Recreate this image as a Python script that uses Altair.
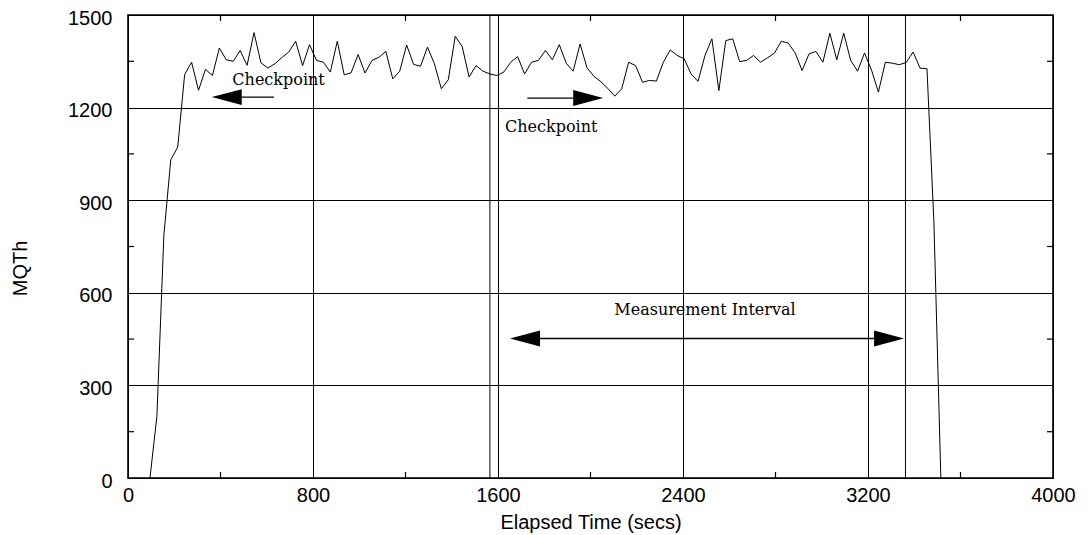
import altair as alt
import pandas as pd

# ---- data ----
times = [95, 125, 155, 185, 215, 245, 275, 305, 335, 365, 395, 425, 455, 485, 515, 545,
         575, 605, 635, 665, 695, 725, 755, 785, 815, 845, 875, 905, 935, 965, 995, 1025,
         1055, 1085, 1115, 1145, 1175, 1205, 1235, 1265, 1295, 1325, 1355, 1385, 1415, 1445,
         1475, 1505, 1535, 1565, 1595, 1625, 1655, 1685, 1715, 1745, 1775, 1805, 1835, 1865,
         1895, 1925, 1955, 1985, 2015, 2045, 2075, 2105, 2135, 2165, 2195, 2225, 2255, 2285,
         2315, 2345, 2375, 2405, 2435, 2465, 2495, 2525, 2555, 2585, 2615, 2645, 2675, 2705,
         2735, 2765, 2795, 2825, 2855, 2885, 2915, 2945, 2975, 3005, 3035, 3065, 3095, 3125,
         3155, 3185, 3215, 3245, 3275, 3305, 3335, 3365, 3395, 3425, 3455, 3485, 3515]
mqth = [0, 200, 785, 1031, 1072, 1307, 1347, 1256, 1324, 1304, 1393, 1355, 1350, 1385, 1337, 1443,
        1345, 1328, 1342, 1362, 1380, 1415, 1336, 1404, 1353, 1347, 1315, 1415, 1306, 1313, 1372, 1312,
        1353, 1363, 1382, 1293, 1318, 1403, 1340, 1334, 1396, 1342, 1261, 1290, 1431, 1398,
        1299, 1336, 1318, 1309, 1304, 1315, 1347, 1365, 1309, 1347, 1353, 1385, 1355, 1404,
        1344, 1318, 1406, 1329, 1301, 1284, 1262, 1237, 1261, 1347, 1336, 1282, 1288, 1286,
        1347, 1387, 1369, 1358, 1309, 1285, 1369, 1423, 1255, 1417, 1423, 1349, 1353, 1369,
        1347, 1361, 1376, 1415, 1409, 1377, 1320, 1374, 1382, 1347, 1441, 1355, 1441, 1353,
        1318, 1377, 1322, 1250, 1347, 1344, 1339, 1346, 1380, 1328, 1326, 830, 0]

x_ticks = [0, 800, 1600, 2400, 3200, 4000]
y_ticks = [0, 300, 600, 900, 1200, 1500]
x_minor = [400, 1200, 2000, 2800, 3600]
y_minor = [150, 450, 750, 1050, 1350]
marker_lines = [1565, 3362]

label_text = ["Checkpoint", "Checkpoint", "Measurement Interval"]
label_x = [651, 1830, 2495]
label_y = [1272, 1121, 527]

shaft_x1 = [492, 1727, 1717]
shaft_x2 = [631, 1925, 3291]
shaft_y = [1234, 1231, 452]

head_x = [427, 1990, 1717, 3291]
head_y = [1234, 1231, 452, 452]
head_dir = ["left", "right", "left", "right"]

W, H = 925, 463
XT, YT = "Elapsed Time (secs)", "MQTh"
xs = alt.Scale(domain=[0, 4000], nice=False, zero=False)
ys = alt.Scale(domain=[0, 1500], nice=False, zero=False)

df = pd.DataFrame({"t": times, "v": mqth})

line = alt.Chart(df).mark_line(color="black", strokeWidth=1).encode(
    x=alt.X("t:Q", scale=xs, title=XT, axis=alt.Axis(
        values=x_ticks, format="d", labelPadding=7, titleBaseline="middle", titleY=44)),
    y=alt.Y("v:Q", scale=ys, title=YT, axis=alt.Axis(
        values=y_ticks, format="d", labelPadding=16, labelOffset=3, titleAngle=270,
        titleAlign="center", titleBaseline="middle", titleX=-108, titleY=253)),
)

vlines = alt.Chart(pd.DataFrame({"m": marker_lines})).mark_rule(
    color="black", strokeWidth=1).encode(x=alt.X("m:Q", scale=xs, title=XT))

xm = pd.DataFrame({"m": x_minor})
ym = pd.DataFrame({"m": y_minor})
tick_bot = alt.Chart(xm).mark_rule(color="black", strokeWidth=1.2).encode(
    x=alt.X("m:Q", scale=xs, title=XT), y=alt.value(H), y2=alt.value(H - 6))
tick_top = alt.Chart(xm).mark_rule(color="black", strokeWidth=1.2).encode(
    x=alt.X("m:Q", scale=xs, title=XT), y=alt.value(0), y2=alt.value(6))
tick_left = alt.Chart(ym).mark_rule(color="black", strokeWidth=1.2).encode(
    y=alt.Y("m:Q", scale=ys, title=YT), x=alt.value(0), x2=alt.value(6))
tick_right = alt.Chart(ym).mark_rule(color="black", strokeWidth=1.2).encode(
    y=alt.Y("m:Q", scale=ys, title=YT), x=alt.value(W), x2=alt.value(W - 6))

labels = alt.Chart(pd.DataFrame({"x": label_x, "y": label_y, "txt": label_text})).mark_text(
    font="DejaVu Serif", fontSize=16, color="black", align="center", baseline="alphabetic"
).encode(x=alt.X("x:Q", scale=xs, title=XT),
         y=alt.Y("y:Q", scale=ys, title=YT), text="txt:N")

shafts = alt.Chart(pd.DataFrame({"x1": shaft_x1, "x2": shaft_x2, "y": shaft_y})).mark_rule(
    color="black", strokeWidth=1.3).encode(
    x=alt.X("x1:Q", scale=xs, title=XT), x2="x2:Q",
    y=alt.Y("y:Q", scale=ys, title=YT))

heads_df = pd.DataFrame({"x": head_x, "y": head_y, "d": head_dir})
left_path = "M -1 0 L 1 -0.53 L 1 0.53 Z"
right_path = "M 1 0 L -1 -0.53 L -1 0.53 Z"
heads_l = alt.Chart(heads_df).transform_filter(alt.datum.d == "left").mark_point(
    shape=left_path, size=900, filled=True, color="black", opacity=1, strokeWidth=0).encode(
    x=alt.X("x:Q", scale=xs, title=XT), y=alt.Y("y:Q", scale=ys, title=YT))
heads_r = alt.Chart(heads_df).transform_filter(alt.datum.d == "right").mark_point(
    shape=right_path, size=900, filled=True, color="black", opacity=1, strokeWidth=0).encode(
    x=alt.X("x:Q", scale=xs, title=XT), y=alt.Y("y:Q", scale=ys, title=YT))

chart = alt.layer(
    line, vlines, tick_bot, tick_top, tick_left, tick_right, labels, shafts, heads_l, heads_r
).properties(
    width=W, height=H,
    autosize=alt.AutoSizeParams(type="none"),
    padding={"left": 120, "top": 7, "right": 27, "bottom": 56},
    background="white",
).configure_view(
    stroke="black", strokeWidth=1.6
).configure_axis(
    grid=True, gridColor="black", gridOpacity=1, gridWidth=1,
    ticks=False, tickSize=0, domain=False,
    labelFont="Liberation Sans", labelFontSize=20, labelColor="black", labelFlush=False,
    titleFont="Liberation Sans", titleFontSize=20, titleFontWeight="normal", titleColor="black",
)

chart.save("out.html", embed_options={"renderer": "svg", "actions": False})
